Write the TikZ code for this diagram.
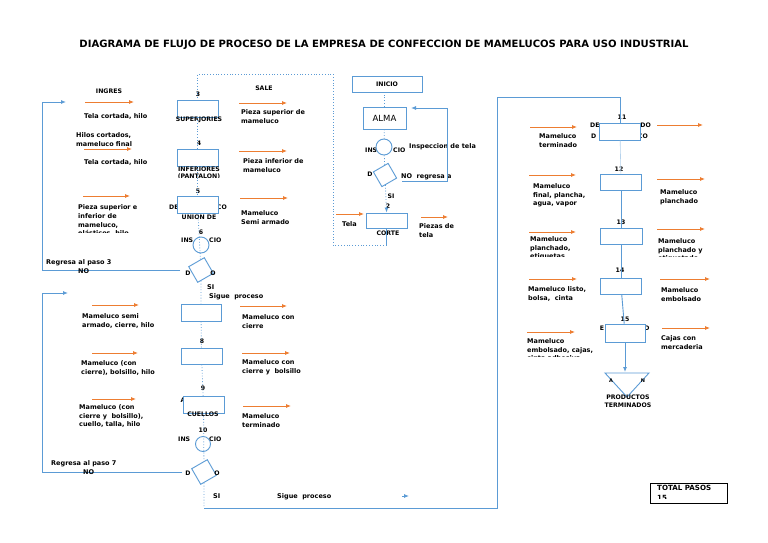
\documentclass[tikz,border=0pt]{standalone}
\usepackage{fontspec}
\setmainfont{DejaVu Sans}
\usetikzlibrary{arrows.meta}
\definecolor{bl}{HTML}{5B9BD5}
\definecolor{orng}{HTML}{ED7D31}
\newcommand\lbf{\fontsize{6.5}{8.7}\selectfont\bfseries}
\newcommand\sbf{\fontsize{6.2}{7.4}\selectfont\bfseries}
\newcommand\oarr[4]{\coordinate (#4a) at (#1,#3); \coordinate (#4b) at (#2,#3); \draw[oline] (#4a) -- (#4b);}
\begin{document}
\begin{tikzpicture}[x=1pt,y=-1pt,
  proc/.style={draw=bl,fill=white,line width=0.9pt,inner sep=0},
  circ/.style={draw=bl,fill=white,line width=0.9pt,circle,inner sep=0,minimum size=16pt},
  dia/.style={draw=bl,fill=white,line width=0.9pt,rectangle,inner sep=0,minimum width=18pt,minimum height=18pt,rotate=30},
  lab/.style={font=\lbf,inner sep=0,align=left,anchor=north west},
  sl/.style={font=\sbf,inner sep=0},
  bline/.style={draw=bl,line width=0.9pt},
  dotl/.style={draw=bl,line width=0.8pt,dotted},
  oline/.style={draw=orng,line width=0.8pt,-{Latex[length=5pt,width=4pt]}},
  btip/.style={-{Latex[length=5pt,width=4pt]}}]
\useasboundingbox[fill=white] (0,0) rectangle (768,543);

\node[font=\fontsize{10.05}{12}\selectfont\bfseries,inner sep=0] (title) at (384,45) {DIAGRAMA DE FLUJO DE PROCESO DE LA EMPRESA DE CONFECCION DE MAMELUCOS PARA USO INDUSTRIAL};

% ---------- headers
\node[sl] (ingres) at (109,91) {INGRES};
\node[sl] (sale) at (264,88) {SALE};

% ---------- text fragments behind shapes (left column)
\node[sl,anchor=west] (f5a) at (169,207) {DE};
\node[sl,anchor=east] (f5b) at (227,207) {CO};
\node[sl,anchor=west] (f6a) at (181,240) {INS};
\node[sl,anchor=west] (f6b) at (209,240) {CIO};
\node[sl,anchor=west] (f10a) at (178,439) {INS};
\node[sl,anchor=west] (f10b) at (209,439) {CIO};
\node[sl] (f9a) at (183,400) {A};

% ---------- left column shapes
\node[proc,minimum width=41pt,minimum height=17pt] (b3) at (197.5,108.5) {};
\node[proc,minimum width=41pt,minimum height=17pt] (b4) at (197.5,157.5) {};
\node[proc,minimum width=41pt,minimum height=17pt] (b5) at (197.5,205) {};
\node[circ] (c6) at (201,245) {};
\node[dia] (d6) at (201,270) {};
\node[proc,minimum width=40pt,minimum height=17pt] (b7) at (201,312.5) {};
\node[proc,minimum width=41pt,minimum height=16pt] (b8) at (201.5,356) {};
\node[proc,minimum width=41pt,minimum height=17pt] (b9) at (203.5,404.5) {};
\node[circ,minimum size=15pt] (c10) at (203,444) {};
\node[dia] (d10) at (204,472) {};

\node[sl] (n3) at (198,94) {3};
\node[sl] (n4) at (199,143) {4};
\node[sl] (n5) at (198,191) {5};
\node[sl] (n6) at (201,232) {6};
\node[sl] (n8) at (202,341) {8};
\node[sl] (n9) at (203,388) {9};
\node[sl] (n10) at (203,430) {10};
\node[sl] (sup) at (199,120) {SUPERJORIES};
\node[sl] (inf) at (199,169) {INFERIORES};
\begin{scope}
\clip (170,173) rectangle (230,177.5);
\node[sl] (pant) at (199,177) {(PANTALON)};
\end{scope}
\node[sl] (uni) at (199,217) {UNION DE};
\node[sl] (cue) at (203,414) {CUELLOS};
\node[sl] (d6a) at (188,273) {D};
\node[sl] (d6b) at (213,273) {O};
\node[sl] (d10a) at (188,473) {D};
\node[sl] (d10b) at (217,473) {O};

% dotted flow left column
\draw[dotl] (b3) -- (b4);
\draw[dotl] (b4) -- (b5);
\draw[dotl] (b5) -- (d6);
\draw[dotl] (d6) -- (b7);
\draw[dotl] (b7) -- (b8);
\draw[dotl] (b8) -- (b9);
\draw[dotl] (b9) -- (d10);

% loops back
\coordinate (l1s) at (180,270); \coordinate (l1e) at (66,102);
\draw[bline,btip] (l1s) -- (42,270) -- (42,102) -- (l1e);
\coordinate (l2s) at (182,472); \coordinate (l2e) at (68,293);
\draw[bline,btip] (l2s) -- (42,472) -- (42,293) -- (l2e);

% bottom connection to right column
\coordinate (bl1) at (204,508);
\draw[dotl] (d10) -- (bl1);

% ---------- left/right labels
\node[lab] (l3) at (84,113) {Tela cortada, hilo};
\node[lab] (l3b) at (76,132.5) {Hilos cortados,\\mameluco final};
\node[lab] (l4) at (84,159.5) {Tela cortada, hilo};
\begin{scope}
\clip (70,195) rectangle (180,232);
\node[lab] (l5) at (78,204.5) {Pieza superior e\\inferior de\\mameluco,\\elásticos, hilo};
\end{scope}
\node[lab] (r3) at (241,109.5) {Pieza superior de\\mameluco};
\node[lab] (r4) at (243,158.5) {Pieza inferior de\\mameluco};
\node[lab] (r5) at (241,210.5) {Mameluco\\Semi armado};
\node[lab] (reg3) at (46,259.5) {Regresa al paso 3};
\node[lab] (no3) at (78,268.5) {NO};
\node[lab] (si1) at (207,284.4) {SI};
\node[lab] (sig1) at (209,293.4) {Sigue~ proceso};
\node[lab] (l7) at (82,313.4) {Mameluco semi\\armado, cierre, hilo};
\node[lab] (r7) at (242,314.4) {Mameluco con\\cierre};
\node[lab] (l8) at (81,360.4) {Mameluco (con\\cierre), bolsillo, hilo};
\node[lab] (r8) at (242,359.4) {Mameluco con\\cierre y~ bolsillo};
\node[lab] (l9) at (79,404.4) {Mameluco (con\\cierre y~ bolsillo),\\cuello, talla, hilo};
\node[lab] (r9) at (242,413.4) {Mameluco\\terminado};
\node[lab] (reg7) at (51,460.4) {Regresa al paso 7};
\node[lab] (no7) at (83,469.4) {NO};
\node[lab] (si2) at (213,493.4) {SI};
\node[lab] (sig2) at (277,493.4) {Sigue~ proceso};

\oarr{85}{134}{102}{oa1}
\oarr{84}{132}{149}{oa2}
\oarr{83}{130}{196}{oa3}
\oarr{239}{287}{103}{oa4}
\oarr{239}{287}{151}{oa5}
\oarr{240}{288}{198}{oa6}
\oarr{92}{139}{305}{oa7}
\oarr{92}{138}{353}{oa8}
\oarr{92}{136}{399}{oa9}
\oarr{240}{287}{306}{oa10}
\oarr{242}{290}{353}{oa11}
\oarr{243}{291}{406}{oa12}

% ---------- middle column
\node[sl,anchor=west] (f1a) at (365,150) {INS};
\node[sl,anchor=west] (f1b) at (393,150) {CIO};
\node[proc,minimum width=70pt,minimum height=16pt,font=\sbf] (ini) at (387,84) {INICIO};
\node[proc,minimum width=43pt,minimum height=22pt,font=\fontsize{8.5}{10}\selectfont] (alma) at (384.5,118) {ALMA};
\node[circ] (c1) at (384,147) {};
\node[dia,minimum width=17pt,minimum height=17pt] (dd1) at (385,175) {};
\node[proc,minimum width=41pt,minimum height=15pt] (b2) at (386.5,220.5) {};
\node[sl] (d1) at (370,174) {D};
\node[lab] (nor) at (401,173.4) {NO~ regresa a};
\node[lab] (insp) at (409,143.4) {Inspeccion de tela};
\node[sl] (si0) at (391,196) {SI};
\node[sl] (n2) at (388,206) {2};
\node[sl] (corte) at (388,233) {CORTE};
\node[lab] (tela) at (342,221.4) {Tela};
\node[lab] (piezas) at (419,223.4) {Piezas de\\tela};

\draw[dotl] (alma.north) -- (alma.north |- ini.south);
\draw[dotl] (alma) -- (c1);
\draw[dotl] (c1) -- (dd1);
\draw[dotl] (dd1) -- (b2.north);
\draw[bline,btip] (b2.north) ++(0,-6) -- (b2.north);
\coordinate (m1s) at (402,181); \coordinate (m1e) at (411,108);
\draw[bline,btip] (m1s) -- (447,181) -- (447,108) -- (m1e);
\draw[bline] (b2.south) -- ++(0,17) coordinate (cb);
\coordinate (tl) at (333,74);
\draw[dotl] (cb) -| (tl) -| (b3.north);

\oarr{336}{364}{214}{oa13}
\oarr{421}{448}{217}{oa14}

% ---------- right column
\node[sl,anchor=west] (f11a) at (590,125) {DE};
\node[sl,anchor=east] (f11b) at (651,125) {DO};
\node[sl,anchor=west] (f11c) at (591,136) {D};
\node[sl,anchor=east] (f11d) at (648,136) {CO};
\node[proc,minimum width=41pt,minimum height=17pt] (b11) at (620,131.5) {};
\node[proc,minimum width=41pt,minimum height=16pt] (b12) at (621,182) {};
\node[proc,minimum width=42pt,minimum height=16pt] (b13) at (621,236) {};
\node[proc,minimum width=41pt,minimum height=16pt] (b14) at (621,286) {};
\node[sl] (f15a) at (602,328) {E};
\node[sl] (f15b) at (647,328) {D};
\node[proc,minimum width=40pt,minimum height=18pt] (b15) at (625,333) {};
\node[sl] (n11) at (622,117) {11};
\node[sl] (n12) at (619,169) {12};
\node[sl] (n13) at (621,222) {13};
\node[sl] (n14) at (620,270) {14};
\node[sl] (n15) at (625,319) {15};

\draw[bline] (bl1) -- (497,508) -- (497,97) -| (b11.north);
\coordinate (sa1) at (402,496); \coordinate (sa2) at (409,496);
\draw[bline,btip] (sa1) -- (sa2);
\draw[draw=bl!45,line width=0.6pt] (b11) -- (b12);
\draw[bline] (b12) -- (b13);
\draw[bline] (b13) -- (b14);
\draw[bline] (b14) -- (b15);
\coordinate (tritop) at (625,372);
\draw[bline,btip] (b15.south) -- (tritop);
\draw[bline] (605,373) -- (649,373) -- (627,397) -- cycle;
\node[font=\fontsize{5}{6}\selectfont\bfseries,inner sep=0] (ta) at (611,381) {A};
\node[font=\fontsize{5}{6}\selectfont\bfseries,inner sep=0] (tn) at (643,381) {N};
\node[sl,align=center,anchor=north] (prod) at (628,395) {PRODUCTOS\\TERMINADOS};

\node[lab] (l11) at (539,133.4) {Mameluco\\terminado};
\node[lab] (l12) at (533,183.4) {Mameluco\\final, plancha,\\agua, vapor};
\node[lab] (r12) at (660,189.4) {Mameluco\\planchado};
\begin{scope}
\clip (520,230) rectangle (768,256.5);
\node[lab] (l13) at (530,236.4) {Mameluco\\planchado,\\etiquetas};
\node[lab] (r13) at (658,238.4) {Mameluco\\planchado y\\etiquetado};
\end{scope}
\begin{scope}
\clip (520,280) rectangle (600,302);
\node[lab] (l14) at (528,286.4) {Mameluco listo,\\bolsa,~ cinta\\adhesiva};
\end{scope}
\node[lab] (r14) at (661,287.4) {Mameluco\\embolsado};
\begin{scope}
\clip (520,335) rectangle (600,356);
\node[lab] (l15) at (527,338.4) {Mameluco\\embolsado, cajas,\\cinta adhesiva};
\end{scope}
\node[lab] (r15) at (661,335.4) {Cajas con\\mercaderia};

\oarr{530}{577}{127}{ob1}
\oarr{529}{576}{175}{ob2}
\oarr{529}{576}{232}{ob3}
\oarr{529}{577}{279}{ob4}
\oarr{527}{575}{332}{ob5}
\oarr{657}{703}{125}{ob6}
\oarr{657}{705}{179}{ob7}
\oarr{657}{705}{229}{ob8}
\oarr{660}{710}{279}{ob9}
\oarr{662}{710}{328}{ob10}

% total box
\node[draw=black,line width=0.9pt,minimum width=77pt,minimum height=20pt,inner sep=0] (tot) at (688.5,493) {};
\begin{scope}
\clip (651,484) rectangle (726,498.5);
\node[font=\fontsize{7.1}{9.5}\selectfont\bfseries,inner sep=0,align=left,anchor=north west] (totx) at (657,485.5) {TOTAL PASOS\\15};
\end{scope}
\end{tikzpicture}
\end{document}
